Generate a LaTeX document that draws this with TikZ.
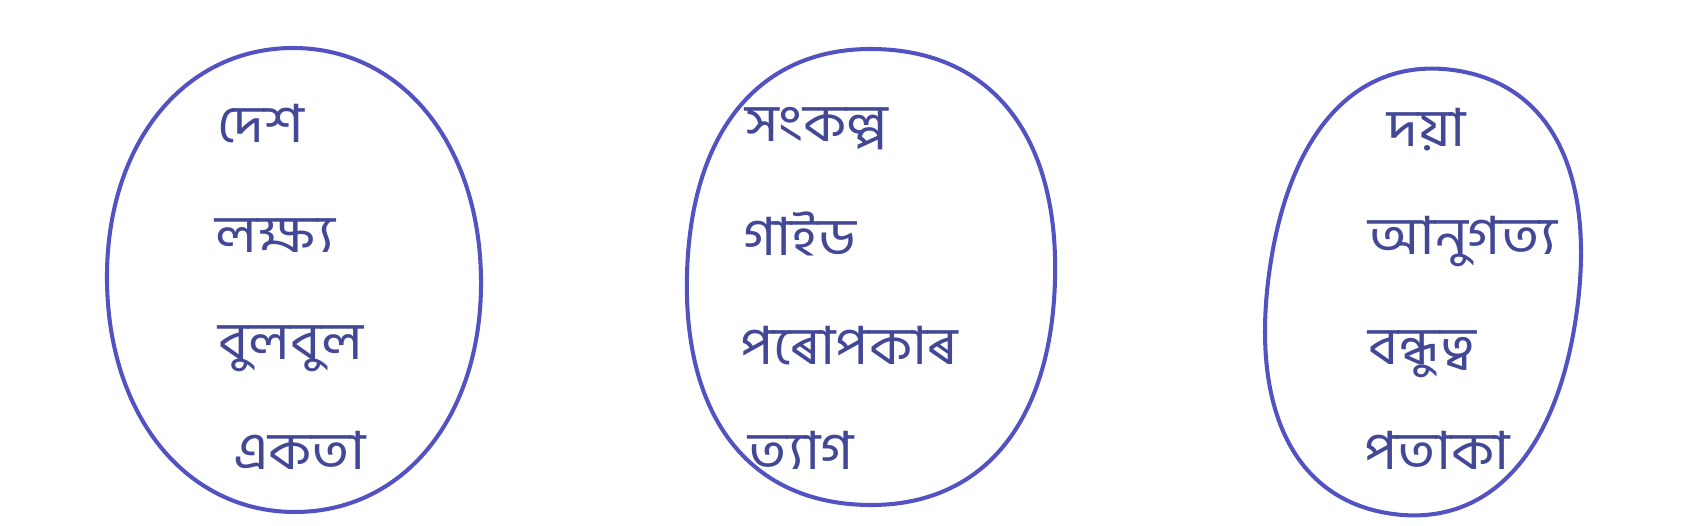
\documentclass[tikz,border=0pt]{standalone}
\usepackage{fontspec}
\newfontfamily\bnfont[Script=Bengali,FakeStretch=1.1]{Hind Siliguri}
\definecolor{penblue}{RGB}{82,82,195}
\definecolor{inkblue}{RGB}{66,72,150}

\begin{document}
\begin{tikzpicture}[x=0.02cm,y=-0.02cm,
    word/.style={anchor=base west, inner sep=0pt, text=inkblue,
      font=\bnfont\fontsize{30}{30}\selectfont},
    ring/.style={draw=penblue, line width=2.3pt}]
    \useasboundingbox (0,0) rectangle (1700,526);
    % the three hand drawn sets
    \draw[ring, rotate around={1:(294,280)}] (294,48) .. controls (403,48) and (481,144) .. (481,280)
      .. controls (481,416) and (403,512) .. (294,512) .. controls (185,512) and (107,416) .. (107,280)
      .. controls (107,144) and (185,48) .. cycle;
    \draw[ring, rotate around={-2:(871,277)}] (871,49) .. controls (987,49) and (1055,133) .. (1055,277)
      .. controls (1055,421) and (987,505) .. (871,505) .. controls (755,505) and (687,421) .. (687,277)
      .. controls (687,133) and (755,49) .. cycle;
    \draw[ring, rotate around={-8:(1423,292)}] (1423,68) .. controls (1521,68) and (1578,151) .. (1578,292)
      .. controls (1578,433) and (1521,516) .. (1423,516) .. controls (1325,516) and (1268,433) .. (1268,292)
      .. controls (1268,151) and (1325,68) .. cycle;
    % first set
    \node[word] (desh) at (217,143) {দেশ};
    \node[word] (lakshya) at (215,253) {লক্ষ্য};
    \node[word] (bulbul) at (218,360) {বুলবুল};
    \node[word] (ekata) at (233,470) {একতা};
    % second set
    \node[word] (sankalpa) at (745,142) {সংকল্প};
    \node[word] (guide) at (743,256) {গাইড};
    \node[word] (paropakar) at (740,365) {পৰোপকাৰ};
    \node[word] (tyag) at (748,470) {ত্যাগ};
    % third set
    \node[word] (daya) at (1387,147) {দয়া};
    \node[word] (anugatya) at (1368,255) {আনুগত্য};
    \node[word] (bandhutva) at (1368,365) {বন্ধুত্ব};
    \node[word] (pataka) at (1364,470) {পতাকা};
\end{tikzpicture}
\end{document}
